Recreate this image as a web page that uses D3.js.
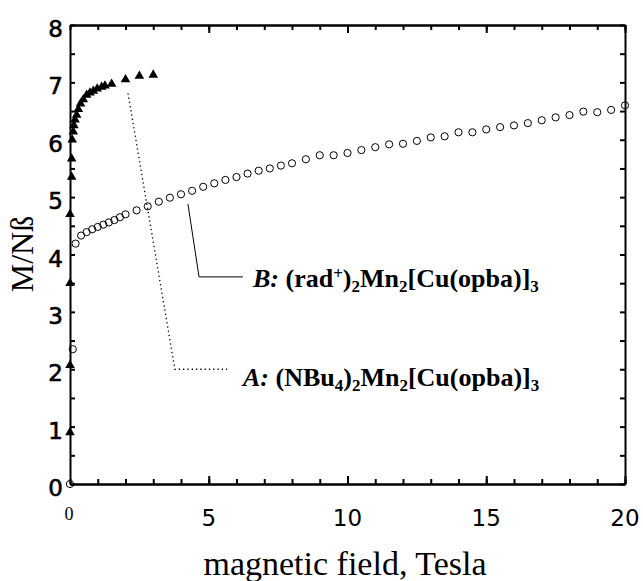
<!DOCTYPE html>
<html>
<head>
<meta charset="utf-8">
<script src="https://d3js.org/d3.v7.min.js"></script>
<style>
  body { margin: 0; background: #fff; }
  .ax path, .ax line { stroke: #000; stroke-width: 2px; }
</style>
</head>
<body>
<svg width="643" height="581"></svg>
<script>
// A: (NBu4)2Mn2[Cu(opba)]3 - triangles
var fieldA = [0, 0, 0, 0, 0.06, 0.06, 0.08, 0.12, 0.14, 0.18, 0.24, 0.30, 0.38, 0.48, 0.60, 0.72, 0.84, 0.98, 1.14, 1.26, 1.50, 2.0, 2.5, 3.0];
var magA  = [0.9, 2.07, 3.5, 4.7, 5.35, 5.67, 6.0, 6.14, 6.25, 6.35, 6.43, 6.53, 6.63, 6.70, 6.78, 6.82, 6.85, 6.89, 6.92, 6.94, 6.97, 7.05, 7.11, 7.13];

// B: (rad+)2Mn2[Cu(opba)]3 - open circles
var fieldB = [0, 0.1, 0.2, 0.4, 0.6, 0.8, 1.0, 1.2, 1.4, 1.6, 1.8, 2.0, 2.4, 2.8, 3.2, 3.6, 4.0, 4.4, 4.8, 5.2, 5.6, 6.0, 6.4, 6.8, 7.2, 7.6, 8.0,
              8.5, 9, 9.5, 10, 10.5, 11, 11.5, 12, 12.5, 13, 13.5, 14, 14.5, 15, 15.5, 16, 16.5, 17, 17.5, 18, 18.5, 19, 19.5, 20];
var magB  = [0, 2.35, 4.19, 4.33, 4.39, 4.44, 4.48, 4.52, 4.56, 4.60, 4.65, 4.70, 4.77, 4.84, 4.92, 4.99, 5.05, 5.11, 5.18, 5.24, 5.30, 5.35, 5.41, 5.46, 5.50, 5.55, 5.59,
              5.66, 5.73, 5.73, 5.77, 5.82, 5.87, 5.92, 5.93, 5.98, 6.04, 6.06, 6.13, 6.13, 6.18, 6.22, 6.25, 6.29, 6.34, 6.39, 6.43, 6.49, 6.48, 6.52, 6.60];

var xTicks = [5, 10, 15, 20];
var yTicks = [0, 1, 2, 3, 4, 5, 6, 7, 8];

// leader lines of the labels, in data units
var leaderB = [[4.25, 4.88], [4.65, 3.61], [6.23, 3.61]];
var leaderA = [[2.09, 6.81], [3.78, 2.0], [5.66, 2.0]];

var svg = d3.select("svg");
var marge = {top: 25, right: 18, bottom: 97, left: 70};
var width = 643 - marge.left - marge.right;
var height = 581 - marge.top - marge.bottom;
var g = svg.append("g").attr("transform", "translate(" + marge.left + "," + marge.top + ")");

var xScale = d3.scaleLinear().domain([0, 20]).range([0, width]);
var yScale = d3.scaleLinear().domain([0, 8]).range([height, 0]);

// axes: inward ticks on all four sides, frame made from the domain lines
var minorX = d3.range(0, 21);
var minorY = d3.range(0, 8.5, 0.5);
function frameAxis(axis, tr) {
  var a = g.append("g").attr("class", "ax").attr("transform", tr).call(axis);
  a.selectAll("text").remove();
  return a;
}
frameAxis(d3.axisBottom(xScale).tickValues(minorX).tickSizeInner(-5).tickSizeOuter(0), "translate(0," + height + ")");
frameAxis(d3.axisTop(xScale).tickValues(minorX).tickSizeInner(-5).tickSizeOuter(0), "translate(0,0)");
frameAxis(d3.axisLeft(yScale).tickValues(minorY).tickSizeInner(-5).tickSizeOuter(0), "translate(0,0)");
frameAxis(d3.axisRight(yScale).tickValues(minorY).tickSizeInner(-5).tickSizeOuter(0), "translate(" + width + ",0)");
frameAxis(d3.axisBottom(xScale).tickValues(xTicks).tickSizeInner(-8).tickSizeOuter(0), "translate(0," + height + ")");
frameAxis(d3.axisTop(xScale).tickValues(xTicks).tickSizeInner(-8).tickSizeOuter(0), "translate(0,0)");

// tick labels
g.selectAll(".xl").data(xTicks).enter().append("text")
  .attr("x", function(d) { return xScale(d); })
  .attr("y", height + 42)
  .attr("text-anchor", "middle")
  .style("font-family", "DejaVu Sans, sans-serif")
  .style("font-size", "23px")
  .text(function(d) { return d; });
g.append("text")
  .attr("x", xScale(0) - 1).attr("y", height + 36)
  .attr("text-anchor", "middle")
  .style("font-family", "Liberation Serif, serif")
  .style("font-size", "18px")
  .text("0");
g.selectAll(".yl").data(yTicks).enter().append("text")
  .attr("x", -7)
  .attr("y", function(d) { return yScale(d) + 12; })
  .attr("text-anchor", "end")
  .style("font-family", "DejaVu Sans, sans-serif")
  .style("font-size", "23px")
  .attr("stroke", "#000").attr("stroke-width", 0.6)
  .text(function(d) { return d; });

// axis titles
svg.append("text")
  .attr("transform", "translate(33,254) rotate(-90)")
  .attr("text-anchor", "middle")
  .style("font-family", "Liberation Serif, serif")
  .style("font-size", "32px")
  .text("M/Nß");
svg.append("text")
  .attr("x", 345).attr("y", 575)
  .attr("text-anchor", "middle")
  .style("font-family", "Liberation Serif, serif")
  .style("font-size", "34px")
  .text("magnetic field, Tesla");

// leader lines
var lineGen = d3.line().x(function(d) { return xScale(d[0]); }).y(function(d) { return yScale(d[1]); });
g.append("path").attr("d", lineGen(leaderB))
  .attr("fill", "none").attr("stroke", "#000").attr("stroke-width", 1);
g.append("path").attr("d", lineGen(leaderA))
  .attr("fill", "none").attr("stroke", "#000").attr("stroke-width", 1.3)
  .attr("stroke-dasharray", "1.3,3");

// data B: open circles
var dataB = fieldB.map(function(f, i) { return [f, magB[i]]; });
g.selectAll(".b").data(dataB).enter().append("circle")
  .attr("cx", function(d) { return xScale(d[0]); })
  .attr("cy", function(d) { return yScale(d[1]); })
  .attr("r", 3.6)
  .attr("fill", "none").attr("stroke", "#000").attr("stroke-width", 1);

// data A: filled triangles
var dataA = fieldA.map(function(f, i) { return [f, magA[i]]; });
var tri = d3.symbol().type(d3.symbolTriangle).size(40);
g.selectAll(".a").data(dataA).enter().append("path")
  .attr("d", tri)
  .attr("transform", function(d) { return "translate(" + xScale(d[0]) + "," + yScale(d[1]) + ")"; })
  .attr("fill", "#000");

// labels
function label(xp, yp, name, parts) {
  var t = svg.append("text").attr("x", xp).attr("y", yp)
    .style("font-family", "Liberation Serif, serif")
    .style("font-size", "26px")
    .style("font-weight", "bold");
  t.append("tspan").style("font-style", "italic").text(name);
  parts.forEach(function(p) {
    var s = t.append("tspan").text(p[0]);
    if (p[1] == "sub") s.attr("baseline-shift", "-5px").style("font-size", "17px");
    if (p[1] == "sup") s.attr("baseline-shift", "8px").style("font-size", "17px");
  });
}
label(253, 287, "B:", [[" (rad"], ["+", "sup"], [")"], ["2", "sub"], ["Mn"], ["2", "sub"], ["[Cu(opba)]"], ["3", "sub"]]);
label(243, 386, "A:", [[" (NBu"], ["4", "sub"], [")"], ["2", "sub"], ["Mn"], ["2", "sub"], ["[Cu(opba)]"], ["3", "sub"]]);
</script>
</body>
</html>
